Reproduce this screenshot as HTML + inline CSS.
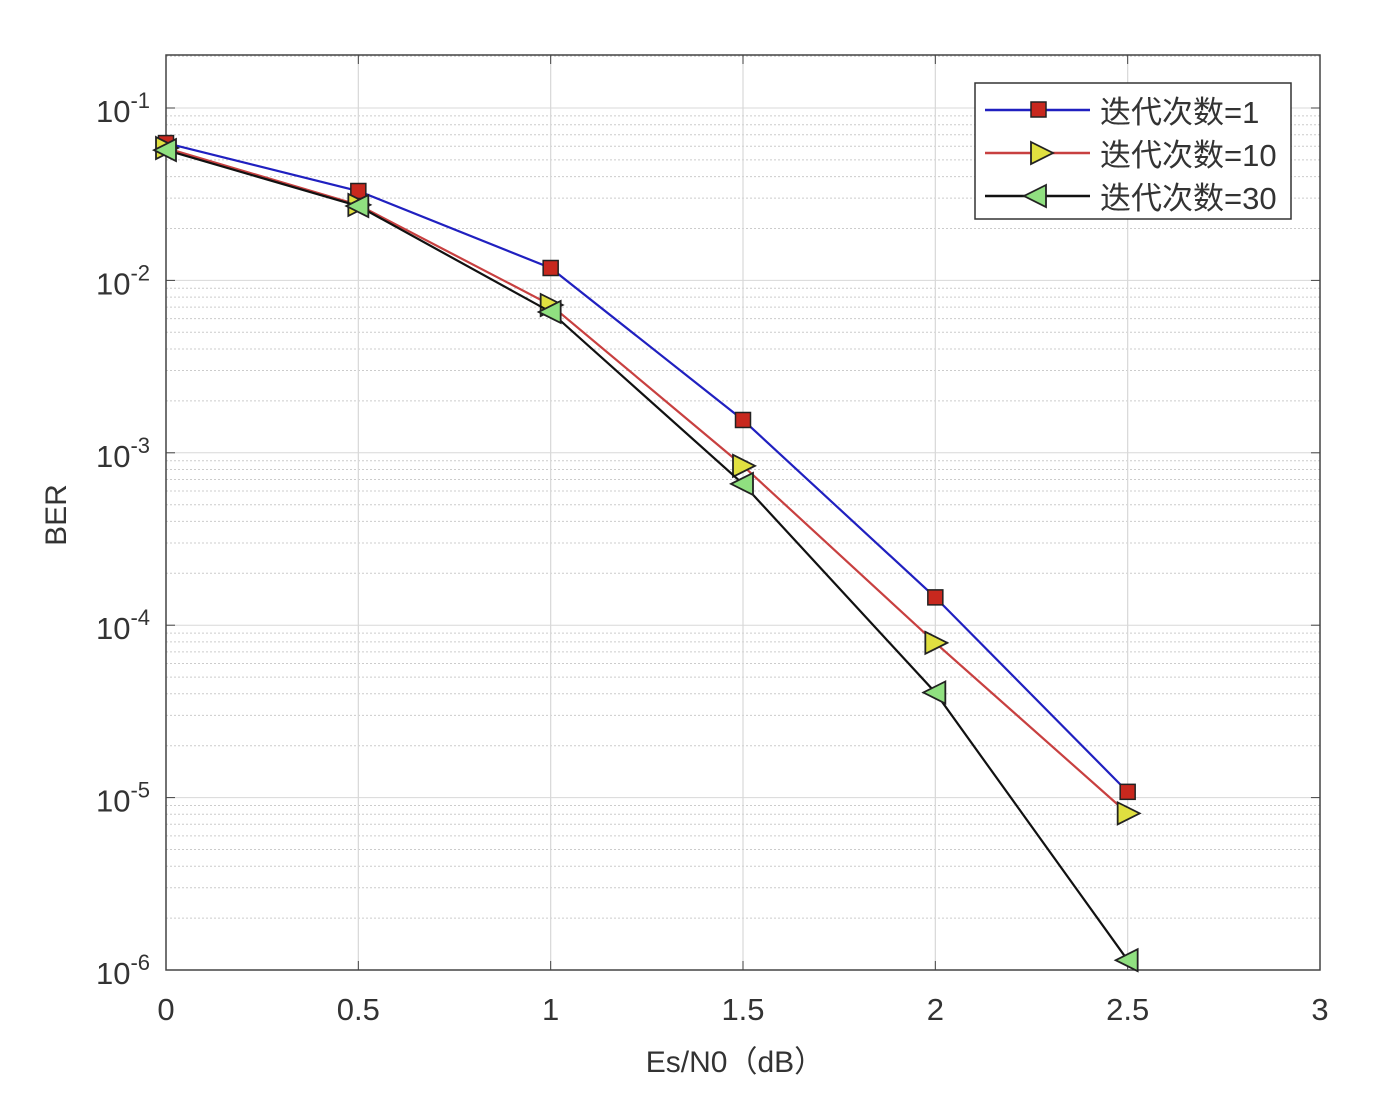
<!DOCTYPE html>
<html><head><meta charset="utf-8"><style>
html,body{margin:0;padding:0;background:#fff;width:1400px;height:1101px;overflow:hidden}
svg text{font-family:"Liberation Sans","Noto Sans CJK SC",sans-serif;fill:#333}
</style></head><body>
<svg id="chart" width="1400" height="1101" viewBox="0 0 1400 1101" xmlns="http://www.w3.org/2000/svg">
<g id="grid"></g>
<rect x="166" y="55" width="1154" height="915" fill="none" stroke="#444" stroke-width="1.5"/>
<g id="ticks"></g>
<g id="series"></g>
<text x="66" y="515" font-size="30" transform="rotate(-90 66 515)" text-anchor="middle">BER</text>
<text x="735" y="1072" font-size="30" text-anchor="middle">Es/N0（dB）</text>
<g>
<rect x="975" y="83" width="316" height="136" fill="#fff" stroke="#333" stroke-width="1.5"/>
<line x1="985" y1="110" x2="1090" y2="110" stroke="#2020c0" stroke-width="2.5"/>
<rect x="1031" y="102" width="15" height="15" fill="#c8281e" stroke="#222" stroke-width="1.5"/>
<text x="1100" y="123" font-size="31">迭代次数=1</text>
<line x1="985" y1="153" x2="1090" y2="153" stroke="#c84040" stroke-width="2.5"/>
<polygon points="1031,142 1053,153 1031,164" fill="#e0e040" stroke="#222" stroke-width="1.8"/>
<text x="1100" y="166" font-size="31">迭代次数=10</text>
<line x1="985" y1="196" x2="1090" y2="196" stroke="#111" stroke-width="2.5"/>
<polygon points="1046,185 1024,196 1046,207" fill="#90e080" stroke="#222" stroke-width="1.8"/>
<text x="1100" y="209" font-size="31">迭代次数=30</text>
</g>
</svg>
<script>
const xValues=[0,0.5,1,1.5,2,2.5];
const ber1=[0.0626,0.033,0.0118,0.00155,1.45e-4,1.08e-5];
const ber10=[0.0586,0.0274,0.0072,8.4e-4,7.9e-5,8.1e-6];
const ber30=[0.057,0.027,0.00656,6.6e-4,4.07e-5,1.14e-6];
const xTicks=[0,0.5,1,1.5,2,2.5,3];
const xTickLabels=["0","0.5","1","1.5","2","2.5","3"];
const yExps=[-1,-2,-3,-4,-5,-6];

const NS="http://www.w3.org/2000/svg";
const X=v=>166+v*(1154/3);
const Y=v=>108+(-1-Math.log10(v))*172.4;
function mk(tag,attrs,parent){const e=document.createElementNS(NS,tag);for(const k in attrs)e.setAttribute(k,attrs[k]);parent.appendChild(e);return e;}
const grid=document.getElementById('grid'),ticks=document.getElementById('ticks'),series=document.getElementById('series');
// minor horizontal grid
for(let d=-1;d>=-6;d--){for(let m=1;m<=9;m++){const v=m*Math.pow(10,d-0);const vv=m*Math.pow(10,d);const y=Y(vv);if(y<55||y>970)continue;
 const l=mk('line',{x1:166,x2:1320,y1:y,y2:y,stroke:m===1?'#d8d8d8':'#ccc','stroke-width':1,'stroke-dasharray':m===1?'':'2,2'},grid);
 }}
for(let m=2;m<=9;m++){const y=Y(m*0.1);if(y>=55){const l=mk('line',{x1:166,x2:1320,y1:y,y2:y,stroke:'#ccc','stroke-dasharray':'2,2'},grid);}}
xTicks.forEach((t,i)=>{const x=X(t);
 if(i>0&&i<xTicks.length-1){const l=mk('line',{x1:x,x2:x,y1:55,y2:970,stroke:'#d8d8d8','stroke-width':1.2},grid);}
 mk('line',{x1:x,x2:x,y1:970,y2:961,stroke:'#444'},ticks);mk('line',{x1:x,x2:x,y1:55,y2:64,stroke:'#444'},ticks);
 const tx=mk('text',{x:x,y:1020,'font-size':31,'text-anchor':'middle'},ticks);tx.textContent=xTickLabels[i];
 });
yExps.forEach(e=>{const y=Y(Math.pow(10,e));
 mk('line',{x1:166,x2:175,y1:y,y2:y,stroke:'#444'},ticks);mk('line',{x1:1320,x2:1311,y1:y,y2:y,stroke:'#444'},ticks);
 const tx=mk('text',{x:150,y:y+14,'font-size':31,'text-anchor':'end'},ticks);
 
 const a=document.createElementNS(NS,'tspan');a.textContent='10';tx.appendChild(a);
 const b=document.createElementNS(NS,'tspan');b.setAttribute('dy','-14');b.setAttribute('font-size','22');b.textContent=String(e);tx.appendChild(b);});
function draw(vals,color,marker,fill,name){
 const pl=mk('polyline',{points:vals.map((v,i)=>X(xValues[i])+','+Y(v)).join(' '),fill:'none',stroke:color,'stroke-width':2.2},series);
 
 vals.forEach((v,i)=>{const x=X(xValues[i]),y=Y(v);let m;
  if(marker==='sq')m=mk('rect',{x:x-7.5,y:y-7.5,width:15,height:15,fill:fill,stroke:'#222','stroke-width':1.5},series);
  else if(marker==='r')m=mk('polygon',{points:`${x-10},${y-11} ${x+12},${y} ${x-10},${y+11}`,fill:fill,stroke:'#222','stroke-width':1.8},series);
  else m=mk('polygon',{points:`${x+10},${y-11} ${x-12},${y} ${x+10},${y+11}`,fill:fill,stroke:'#222','stroke-width':1.8},series);
  });}
draw(ber1,'#2020c0','sq','#c8281e','series-iter-1');
draw(ber10,'#c84040','r','#e0e040','series-iter-10');
draw(ber30,'#111','l','#90e080','series-iter-30');
</script>
</body></html>
